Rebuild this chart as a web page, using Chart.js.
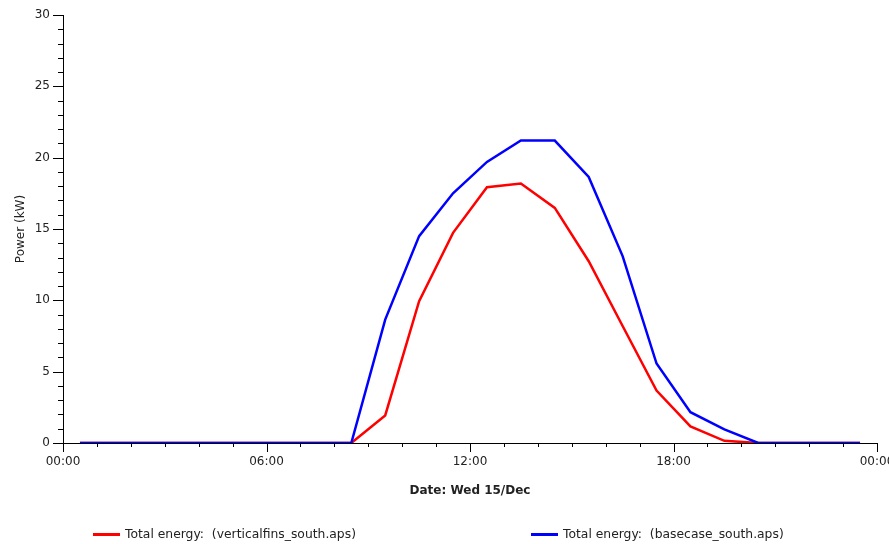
<!DOCTYPE html>
<html>
<head>
<meta charset="utf-8">
<script src="https://cdn.jsdelivr.net/npm/chart.js@4.4.1/dist/chart.umd.min.js"></script>
<style>
  body { margin: 0; background: #fff; overflow: hidden; }
  #wrap { position: relative; width: 889px; height: 544px; }
  .leg { position: absolute; top: 526px; font: 12.35px "DejaVu Sans", sans-serif; color: #222; white-space: pre; line-height: 16px; }
  .leg i { position: absolute; top: 7px; width: 27px; height: 3px; }
</style>
</head>
<body>
<div id="wrap">
  <canvas id="Chart1" width="889" height="544"></canvas>
  <div class="leg" style="left:93px"><i style="left:0;background:#ff0000"></i><span style="margin-left:32px">Total energy:  (verticalfins_south.aps)</span></div>
  <div class="leg" style="left:531px"><i style="left:0;background:#0000ff"></i><span style="margin-left:32px">Total energy:  (basecase_south.aps)</span></div>
</div>
<script>
// hours of the day (half past each hour)
const hours = [0.5, 1.5, 2.5, 3.5, 4.5, 5.5, 6.5, 7.5, 8.5, 9.5, 10.5, 11.5,
    12.5, 13.5, 14.5, 15.5, 16.5, 17.5, 18.5, 19.5, 20.5, 21.5, 22.5, 23.5];

// power in kW
const verticalFins = [0, 0, 0, 0, 0, 0, 0, 0, 0, 1.93, 9.94, 14.73,
    17.93, 18.19, 16.48, 12.74, 8.2, 3.68, 1.16, 0.15, 0, 0, 0, 0];
const baseCase = [0, 0, 0, 0, 0, 0, 0, 0, 0, 8.65, 14.5, 17.5,
    19.7, 21.2, 21.2, 18.65, 13.1, 5.57, 2.16, 0.95, 0, 0, 0, 0];

const xTickLabels = ["00:00", "06:00", "12:00", "18:00", "00:00"];
const yTicks = [0, 5, 10, 15, 20, 25, 30];

const tickFont = { family: "DejaVu Sans", size: 12 };

// major + minor tick marks, drawn off the scales
const tickMarks = {
    id: "tickMarks",
    afterDraw(chart) {
        const { ctx, chartArea, scales } = chart;
        ctx.save();
        ctx.strokeStyle = "#000";
        ctx.lineWidth = 1;
        ctx.beginPath();
        for (let h = 0; h <= 24; h++) {
            const px = Math.round(scales.x.getPixelForValue(h)) + 0.5;
            const len = h % 6 === 0 ? 9 : 4;
            ctx.moveTo(px, chartArea.bottom);
            ctx.lineTo(px, chartArea.bottom + len);
        }
        for (let v = 0; v <= 30; v++) {
            const py = Math.round(scales.y.getPixelForValue(v)) + 0.5;
            const len = v % 5 === 0 ? 10 : 5;
            ctx.moveTo(chartArea.left, py);
            ctx.lineTo(chartArea.left - len, py);
        }
        ctx.stroke();
        ctx.restore();
    },
};

const ctx1 = document.getElementById("Chart1").getContext("2d");
const chart1 = new Chart(ctx1, {
    type: "line",
    data: {
        datasets: [
            {
                label: "Total energy:  (verticalfins_south.aps)",
                data: hours.map((h, i) => ({ x: h, y: verticalFins[i] })),
                borderColor: "#ff0000",
                borderWidth: 2.5,
                pointRadius: 0,
                tension: 0,
                order: 2,
            },
            {
                label: "Total energy:  (basecase_south.aps)",
                data: hours.map((h, i) => ({ x: h, y: baseCase[i] })),
                borderColor: "#0000ff",
                borderWidth: 2.5,
                pointRadius: 0,
                tension: 0,
                order: 1,
            },
        ],
    },
    options: {
        responsive: false,
        animation: false,
        layout: {
            padding: { top: 15, right: 12, bottom: 41, left: 0 },
        },
        plugins: {
            legend: { display: false },
            tooltip: { enabled: false },
        },
        scales: {
            x: {
                type: "linear",
                min: 0,
                max: 24,
                grid: { drawOnChartArea: false, drawTicks: false },
                border: { display: true, color: "#000", width: 1 },
                ticks: {
                    stepSize: 6,
                    padding: 12,
                    color: "#222",
                    font: tickFont,
                    maxRotation: 0,
                    autoSkip: false,
                    callback: (v) => xTickLabels[v / 6],
                },
                title: {
                    display: true,
                    text: "Date: Wed 15/Dec",
                    color: "#222",
                    font: { family: "DejaVu Sans", size: 12, weight: "bold" },
                    padding: { top: 0, bottom: 5 },
                },
                afterFit: (s) => {
                    s.height = 60;
                    s.paddingLeft = 0;
                    s.paddingRight = 0;
                },
            },
            y: {
                min: 0,
                max: 30,
                grid: { drawOnChartArea: false, drawTicks: false },
                border: { display: true, color: "#000", width: 1 },
                ticks: {
                    stepSize: 5,
                    padding: 13,
                    color: "#222",
                    font: tickFont,
                    callback: (v) => (yTicks.includes(v) ? String(v) : ""),
                },
                title: {
                    display: true,
                    text: "Power (kW)",
                    color: "#222",
                    font: { family: "DejaVu Sans", size: 12 },
                    padding: { top: 14, bottom: 0 },
                },
                afterFit: (s) => {
                    s.width = 63;
                    s.paddingTop = 0;
                    s.paddingBottom = 0;
                },
            },
        },
    },
    plugins: [tickMarks],
});
</script>
</body>
</html>
